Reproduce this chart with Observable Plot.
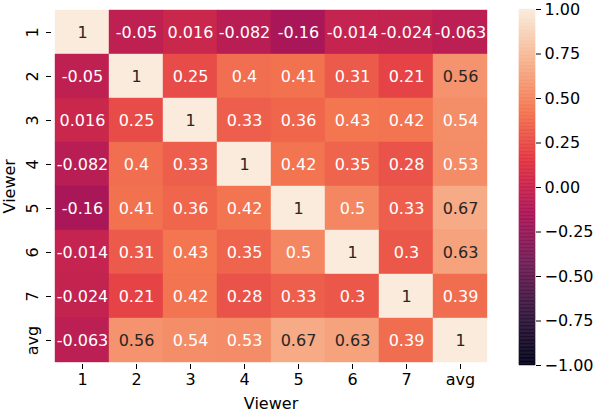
<!DOCTYPE html>
<html>
<head>
<meta charset="utf-8">
<script src="https://cdn.jsdelivr.net/npm/d3@7"></script>
<script src="https://cdn.jsdelivr.net/npm/@observablehq/plot@0.6"></script>
<style>
  html, body { margin: 0; padding: 0; background: white; }
  #wrap { position: relative; width: 598px; height: 412px; font-family: "DejaVu Sans", sans-serif; }
  #wrap svg { position: absolute; top: 0; }
</style>
</head>
<body>
<div id="wrap"></div>
<script>
const labels = ["1", "2", "3", "4", "5", "6", "7", "avg"];
const matrix = [
  [1, -0.05, 0.016, -0.082, -0.16, -0.014, -0.024, -0.063],
  [-0.05, 1, 0.25, 0.4, 0.41, 0.31, 0.21, 0.56],
  [0.016, 0.25, 1, 0.33, 0.36, 0.43, 0.42, 0.54],
  [-0.082, 0.4, 0.33, 1, 0.42, 0.35, 0.28, 0.53],
  [-0.16, 0.41, 0.36, 0.42, 1, 0.5, 0.33, 0.67],
  [-0.014, 0.31, 0.43, 0.35, 0.5, 1, 0.3, 0.63],
  [-0.024, 0.21, 0.42, 0.28, 0.33, 0.3, 1, 0.39],
  [-0.063, 0.56, 0.54, 0.53, 0.67, 0.63, 0.39, 1]
];
const cbarTicks = [-1, -0.75, -0.5, -0.25, 0, 0.25, 0.5, 0.75, 1];

// seaborn "rocket" colormap stops
const rocketStops = ["#03051a", "#35193e", "#701f57", "#ad1759", "#e13342", "#f37651", "#f6b48f", "#faebdd"];
const rocket = d3.piecewise(d3.interpolateRgb, rocketStops);
const colorFn = d3.scaleSequential(rocket).domain([-1, 1]);

function luminance(c) {
  const rgb = d3.rgb(c);
  const lin = [rgb.r, rgb.g, rgb.b].map(v => {
    v = v / 255;
    return v <= 0.03928 ? v / 12.92 : Math.pow((v + 0.055) / 1.055, 2.4);
  });
  return 0.2126 * lin[0] + 0.7152 * lin[1] + 0.0722 * lin[2];
}

const cells = [];
matrix.forEach((row, i) => row.forEach((v, j) => cells.push({row: labels[i], col: labels[j], v})));

const FS = 16;
const colorScale = {type: "linear", domain: [-1, 1], interpolate: rocket};

const heat = Plot.plot({
  width: 598,
  height: 412,
  marginLeft: 51,
  marginRight: 108,
  marginTop: 7.5,
  marginBottom: 48,
  style: {fontFamily: "DejaVu Sans, sans-serif", fontSize: FS + "px", background: "transparent"},
  x: {type: "band", domain: labels, padding: 0, label: null},
  y: {type: "band", domain: labels, padding: 0, label: null},
  color: colorScale,
  marks: [
    Plot.cell(cells, {x: "col", y: "row", fill: "v", inset: 0, stroke: "v", strokeWidth: 0.4}),
    Plot.text(cells, {
      x: "col", y: "row", text: d => String(d.v),
      fill: d => luminance(colorFn(d.v)) > 0.408 ? "#262626" : "#ffffff",
      fontSize: FS
    }),
    Plot.axisX({tickSize: 5, tickPadding: 4, fontSize: FS, label: null}),
    Plot.axisY({tickSize: 5, text: null, label: null}),
    Plot.text(labels, {y: d => d, text: d => d, frameAnchor: "left", dx: -19, rotate: -90, textAnchor: "middle", lineAnchor: "middle", fill: "black", fontSize: FS}),
    Plot.text(["Viewer"], {frameAnchor: "bottom", dy: 39, text: d => d, lineAnchor: "middle", fill: "black", fontSize: FS}),
    Plot.text(["Viewer"], {frameAnchor: "left", dx: -42, rotate: -90, text: d => d, lineAnchor: "middle", textAnchor: "middle", fill: "black", fontSize: FS})
  ]
});

const strips = d3.range(256).map(i => ({y1: -1 + i * 2 / 256, y2: -1 + (i + 1) * 2 / 256, v: -1 + (i + 0.5) * 2 / 256}));

const cbar = Plot.plot({
  width: 98,
  height: 412,
  marginLeft: 19,
  marginRight: 63,
  marginTop: 9,
  marginBottom: 47,
  style: {fontFamily: "DejaVu Sans, sans-serif", fontSize: FS + "px", background: "transparent"},
  x: {domain: [0, 1], axis: null},
  y: {domain: [-1, 1], label: null, axis: null},
  color: colorScale,
  marks: [
    Plot.rect(strips, {x1: 0, x2: 1, y1: "y1", y2: "y2", fill: "v", stroke: "v", strokeWidth: 0.5}),
    Plot.axisY({anchor: "right", ticks: cbarTicks, tickFormat: d3.format(".2f"), tickSize: 5, tickPadding: 4, fontSize: FS, label: null})
  ]
});
cbar.style.left = "500px";

const wrap = document.getElementById("wrap");
wrap.appendChild(heat);
wrap.appendChild(cbar);
</script>
</body>
</html>
